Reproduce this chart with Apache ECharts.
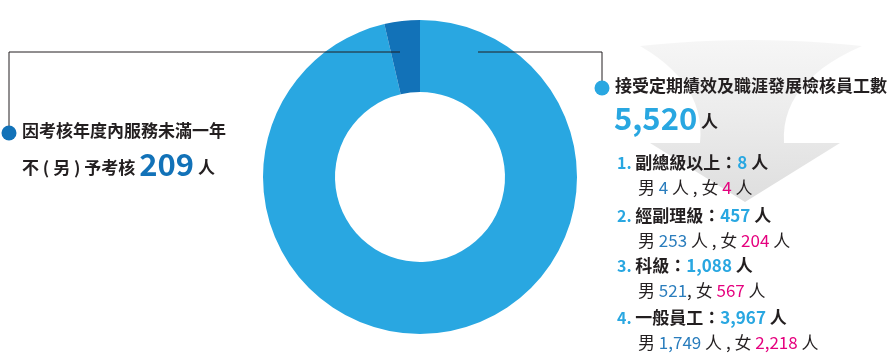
<!DOCTYPE html>
<html>
<head>
<meta charset="utf-8">
<script src="https://cdn.jsdelivr.net/npm/echarts@6/dist/echarts.min.js"></script>
<style>
html,body{margin:0;padding:0;background:#fff;}
#c{width:895px;height:362px;}
</style>
</head>
<body>
<div id="c"></div>
<script>
// ---- data ----
var sliceNames = ['接受定期績效及職涯發展檢核員工數', '因考核年度內服務未滿一年不(另)予考核'];
var sliceValues = [5520, 209];
var levels = ['副總級以上', '經副理級', '科級', '一般員工'];
var levelTotals = [8, 457, 1088, 3967];
var maleCounts = [4, 253, 521, 1749];
var femaleCounts = [4, 204, 567, 2218];
var maleSuffix = [' 人 , ', ' 人 , ', ', ', ' 人 , '];

// ---- styles ----
var FONT = '"Noto Sans CJK TC", "Noto Sans", sans-serif';
var LIGHT = '#29a7e1';
var DARK = '#1272b8';
var MALE = '#2a7dbd';
var FEMALE = '#e5007e';
var INK = '#231f20';

function fmt(n) { return n.toLocaleString('en-US'); }

function quad(p0, c, p1, n) {
  var out = [];
  for (var k = 0; k <= n; k++) {
    var t = k / n, a = (1 - t) * (1 - t), b = 2 * (1 - t) * t, d = t * t;
    out.push([a * p0[0] + b * c[0] + d * p1[0], a * p0[1] + b * c[1] + d * p1[1]]);
  }
  return out;
}

var chart = echarts.init(document.getElementById('c'), null, {renderer: 'canvas'});

var graphics = [];

// background arrow (decorative)
var arrowPts = quad([640, 46], [751, 34], [862, 46], 12)
  .concat(quad([862, 46], [780, 82], [784, 143], 14))
  .concat([[840, 143], [745, 202], [650, 143], [700, 143]])
  .concat(quad([700, 143], [706, 84], [640, 46], 14));
graphics.push({
  type: 'polygon', z: 0, silent: true,
  shape: { points: arrowPts },
  style: {
    fill: { type: 'linear', x: 0, y: 0, x2: 0, y2: 1, colorStops: [
      {offset: 0, color: 'rgba(246,246,246,1)'},
      {offset: 0.45, color: 'rgba(236,236,236,1)'},
      {offset: 1, color: 'rgba(222,222,222,1)'}
    ] }
  }
});

// leader lines
graphics.push({ type: 'polyline', z: 5, silent: true,
  shape: { points: [[400, 52], [9, 52], [9, 128]] },
  style: { stroke: INK, lineWidth: 1, fill: null } });
graphics.push({ type: 'polyline', z: 5, silent: true,
  shape: { points: [[478, 52], [602, 52], [602, 84]] },
  style: { stroke: INK, lineWidth: 1, fill: null } });
graphics.push({ type: 'circle', z: 6, shape: { cx: 9, cy: 133, r: 7.5 }, style: { fill: DARK } });
graphics.push({ type: 'circle', z: 6, shape: { cx: 602, cy: 88, r: 7.5 }, style: { fill: LIGHT } });

// left label
graphics.push({ type: 'text', z: 6, x: 22, y: 122,
  style: { text: '因考核年度內服務未滿一年', font: 'bold 17px ' + FONT, fill: INK } });
graphics.push({ type: 'text', z: 6, x: 22, y: 146,
  style: {
    text: '{t|不 ( 另 ) 予考核 }{n|' + fmt(sliceValues[1]) + '}{t| 人}',
    rich: {
      t: { fontFamily: FONT, fontWeight: 'bold', fontSize: 17, fill: INK, lineHeight: 34, verticalAlign: 'bottom', padding: [0, 0, 4, 0] },
      n: { fontFamily: FONT, fontWeight: 'bold', fontSize: 31, fill: DARK, lineHeight: 34, verticalAlign: 'bottom' }
    }
  } });

// right label
graphics.push({ type: 'text', z: 6, x: 615, y: 77,
  style: { text: sliceNames[0], font: 'bold 17px ' + FONT, fill: INK } });
graphics.push({ type: 'text', z: 6, x: 614, y: 100,
  style: {
    text: '{n|' + fmt(sliceValues[0]) + '}{t| 人}',
    rich: {
      t: { fontFamily: FONT, fontWeight: 'bold', fontSize: 17, fill: INK, lineHeight: 34, verticalAlign: 'bottom', padding: [0, 0, 4, 0] },
      n: { fontFamily: FONT, fontWeight: 'bold', fontSize: 31, fill: LIGHT, lineHeight: 34, verticalAlign: 'bottom' }
    }
  } });

// list
var rowTops = [154, 207, 257, 309];
for (var i = 0; i < levels.length; i++) {
  graphics.push({ type: 'text', z: 6, x: 617, y: rowTops[i],
    style: {
      text: '{k|' + (i + 1) + '. }{h|' + levels[i] + '：}{v|' + fmt(levelTotals[i]) + '}{h| 人}',
      rich: {
        k: { fontFamily: FONT, fontWeight: 'bold', fontSize: 16, fill: LIGHT },
        h: { fontFamily: FONT, fontWeight: 'bold', fontSize: 17, fill: INK },
        v: { fontFamily: FONT, fontWeight: 'bold', fontSize: 17, fill: LIGHT }
      }
    } });
  graphics.push({ type: 'text', z: 6, x: 638, y: rowTops[i] + 25,
    style: {
      text: '{t|男 }{m|' + fmt(maleCounts[i]) + '}{t|' + maleSuffix[i] + '女 }{f|' + fmt(femaleCounts[i]) + '}{t| 人}',
      rich: {
        t: { fontFamily: FONT, fontSize: 17, fill: INK },
        m: { fontFamily: FONT, fontSize: 17, fill: MALE },
        f: { fontFamily: FONT, fontSize: 17, fill: FEMALE }
      }
    } });
}

chart.setOption({
  animation: false,
  backgroundColor: '#ffffff',
  series: [{
    type: 'pie',
    center: [420, 177],
    radius: [85, 157],
    startAngle: 90,
    clockwise: true,
    silent: true,
    label: { show: false },
    labelLine: { show: false },
    itemStyle: { borderWidth: 0 },
    emphasis: { disabled: true },
    data: [
      { name: sliceNames[0], value: sliceValues[0], itemStyle: { color: LIGHT } },
      { name: sliceNames[1], value: sliceValues[1], itemStyle: { color: DARK } }
    ]
  }],
  graphic: graphics
});
</script>
</body>
</html>
